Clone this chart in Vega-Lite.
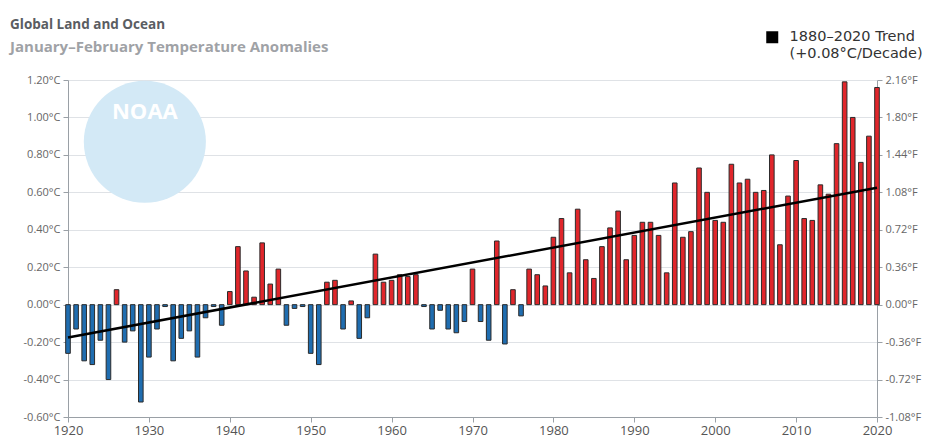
{
  "$schema": "https://vega.github.io/schema/vega-lite/v6.json",
  "width": 809,
  "height": 337,
  "autosize": {"type": "none"},
  "padding": {"left": 68, "top": 80, "right": 52, "bottom": 21},
  "background": "white",
  "title": {
    "text": "Global Land and Ocean",
    "subtitle": "January–February Temperature Anomalies",
    "anchor": "start",
    "frame": "group",
    "dx": -58,
    "offset": -25,
    "font": "Open Sans",
    "fontSize": 13.5,
    "fontWeight": "bold",
    "color": "#5a5d62",
    "subtitleFont": "Open Sans",
    "subtitleFontSize": 15,
    "subtitleFontWeight": "bold",
    "subtitleColor": "#9fa2a6",
    "subtitlePadding": 9
  },
  "datasets": {
    "anomalies": [
      {"year": 1920, "anomaly": -0.26}, {"year": 1921, "anomaly": -0.13}, {"year": 1922, "anomaly": -0.30},
      {"year": 1923, "anomaly": -0.32}, {"year": 1924, "anomaly": -0.19}, {"year": 1925, "anomaly": -0.40},
      {"year": 1926, "anomaly": 0.08}, {"year": 1927, "anomaly": -0.20}, {"year": 1928, "anomaly": -0.14},
      {"year": 1929, "anomaly": -0.52}, {"year": 1930, "anomaly": -0.28}, {"year": 1931, "anomaly": -0.13},
      {"year": 1932, "anomaly": -0.01}, {"year": 1933, "anomaly": -0.30}, {"year": 1934, "anomaly": -0.18},
      {"year": 1935, "anomaly": -0.14}, {"year": 1936, "anomaly": -0.28}, {"year": 1937, "anomaly": -0.07},
      {"year": 1938, "anomaly": -0.01}, {"year": 1939, "anomaly": -0.11}, {"year": 1940, "anomaly": 0.07},
      {"year": 1941, "anomaly": 0.31}, {"year": 1942, "anomaly": 0.18}, {"year": 1943, "anomaly": 0.04},
      {"year": 1944, "anomaly": 0.33}, {"year": 1945, "anomaly": 0.11}, {"year": 1946, "anomaly": 0.19},
      {"year": 1947, "anomaly": -0.11}, {"year": 1948, "anomaly": -0.02}, {"year": 1949, "anomaly": -0.01},
      {"year": 1950, "anomaly": -0.26}, {"year": 1951, "anomaly": -0.32}, {"year": 1952, "anomaly": 0.12},
      {"year": 1953, "anomaly": 0.13}, {"year": 1954, "anomaly": -0.13}, {"year": 1955, "anomaly": 0.02},
      {"year": 1956, "anomaly": -0.18}, {"year": 1957, "anomaly": -0.07}, {"year": 1958, "anomaly": 0.27},
      {"year": 1959, "anomaly": 0.12}, {"year": 1960, "anomaly": 0.13}, {"year": 1961, "anomaly": 0.16},
      {"year": 1962, "anomaly": 0.15}, {"year": 1963, "anomaly": 0.16}, {"year": 1964, "anomaly": -0.01},
      {"year": 1965, "anomaly": -0.13}, {"year": 1966, "anomaly": -0.03}, {"year": 1967, "anomaly": -0.13},
      {"year": 1968, "anomaly": -0.15}, {"year": 1969, "anomaly": -0.09}, {"year": 1970, "anomaly": 0.19},
      {"year": 1971, "anomaly": -0.09}, {"year": 1972, "anomaly": -0.19}, {"year": 1973, "anomaly": 0.34},
      {"year": 1974, "anomaly": -0.21}, {"year": 1975, "anomaly": 0.08}, {"year": 1976, "anomaly": -0.06},
      {"year": 1977, "anomaly": 0.19}, {"year": 1978, "anomaly": 0.16}, {"year": 1979, "anomaly": 0.10},
      {"year": 1980, "anomaly": 0.36}, {"year": 1981, "anomaly": 0.46}, {"year": 1982, "anomaly": 0.17},
      {"year": 1983, "anomaly": 0.51}, {"year": 1984, "anomaly": 0.24}, {"year": 1985, "anomaly": 0.14},
      {"year": 1986, "anomaly": 0.31}, {"year": 1987, "anomaly": 0.41}, {"year": 1988, "anomaly": 0.50},
      {"year": 1989, "anomaly": 0.24}, {"year": 1990, "anomaly": 0.37}, {"year": 1991, "anomaly": 0.44},
      {"year": 1992, "anomaly": 0.44}, {"year": 1993, "anomaly": 0.37}, {"year": 1994, "anomaly": 0.17},
      {"year": 1995, "anomaly": 0.65}, {"year": 1996, "anomaly": 0.36}, {"year": 1997, "anomaly": 0.39},
      {"year": 1998, "anomaly": 0.73}, {"year": 1999, "anomaly": 0.60}, {"year": 2000, "anomaly": 0.45},
      {"year": 2001, "anomaly": 0.44}, {"year": 2002, "anomaly": 0.75}, {"year": 2003, "anomaly": 0.65},
      {"year": 2004, "anomaly": 0.67}, {"year": 2005, "anomaly": 0.60}, {"year": 2006, "anomaly": 0.61},
      {"year": 2007, "anomaly": 0.80}, {"year": 2008, "anomaly": 0.32}, {"year": 2009, "anomaly": 0.58},
      {"year": 2010, "anomaly": 0.77}, {"year": 2011, "anomaly": 0.46}, {"year": 2012, "anomaly": 0.45},
      {"year": 2013, "anomaly": 0.64}, {"year": 2014, "anomaly": 0.59}, {"year": 2015, "anomaly": 0.86},
      {"year": 2016, "anomaly": 1.19}, {"year": 2017, "anomaly": 1.00}, {"year": 2018, "anomaly": 0.76},
      {"year": 2019, "anomaly": 0.90}, {"year": 2020, "anomaly": 1.16}
    ],
    "trend": [
      {"year": 1920, "value": -0.175},
      {"year": 2020, "value": 0.625}
    ],
    "logo": [
      {"year": 1929.5, "value": 0.87, "label": "NOAA", "textValue": 1.03}
    ]
  },
  "layer": [
    {
      "data": {"name": "logo"},
      "mark": {"type": "circle", "color": "#d3e9f6", "opacity": 1},
      "encoding": {
        "x": {
          "field": "year",
          "type": "quantitative",
          "scale": {"domain": [1920, 2020], "nice": false, "zero": false, "padding": 0},
          "axis": {
            "title": null,
            "values": [1920, 1930, 1940, 1950, 1960, 1970, 1980, 1990, 2000, 2010, 2020],
            "format": "d",
            "grid": false,
            "labelFlush": false,
            "labelOverlap": false,
            "domainColor": "#9aa0a6",
            "tickColor": "#9aa0a6",
            "tickSize": 5,
            "labelColor": "#555",
            "labelFont": "Open Sans",
            "labelFontSize": 13,
            "labelPadding": 2
          }
        },
        "y": {"field": "value", "type": "quantitative", "axis": null},
        "size": {"value": 14900}
      }
    },
    {
      "data": {"name": "logo"},
      "mark": {"type": "text", "color": "white", "font": "Open Sans", "fontWeight": "bold", "fontSize": 22},
      "encoding": {
        "x": {
          "field": "year",
          "type": "quantitative",
          "axis": {
            "title": null,
            "values": [1920, 1930, 1940, 1950, 1960, 1970, 1980, 1990, 2000, 2010, 2020],
            "format": "d",
            "grid": false,
            "labelFlush": false,
            "labelOverlap": false,
            "domainColor": "#9aa0a6",
            "tickColor": "#9aa0a6",
            "tickSize": 5,
            "labelColor": "#555",
            "labelFont": "Open Sans",
            "labelFontSize": 13,
            "labelPadding": 2
          }
        },
        "y": {"field": "textValue", "type": "quantitative", "axis": null},
        "text": {"field": "label"}
      }
    },
    {
      "data": {"name": "anomalies"},
      "mark": {"type": "bar", "orient": "vertical", "size": 4.6, "stroke": "#2b2b2b", "strokeWidth": 1},
      "encoding": {
        "x": {
          "field": "year",
          "type": "quantitative",
          "axis": {
            "title": null,
            "values": [1920, 1930, 1940, 1950, 1960, 1970, 1980, 1990, 2000, 2010, 2020],
            "format": "d",
            "grid": false,
            "labelFlush": false,
            "labelOverlap": false,
            "domainColor": "#9aa0a6",
            "tickColor": "#9aa0a6",
            "tickSize": 5,
            "labelColor": "#555",
            "labelFont": "Open Sans",
            "labelFontSize": 13,
            "labelPadding": 2
          }
        },
        "y": {
          "field": "anomaly",
          "type": "quantitative",
          "scale": {"domain": [-0.6, 1.2], "nice": false},
          "axis": {
            "title": null,
            "values": [-0.6, -0.4, -0.2, 0, 0.2, 0.4, 0.6, 0.8, 1.0, 1.2],
            "labelExpr": "replace(format(datum.value, '.2f'), '−', '-') + '°C'",
            "grid": true,
            "gridColor": "#dfe2e6",
            "gridWidth": 1,
            "domainColor": "#9aa0a6",
            "tickColor": "#9aa0a6",
            "tickSize": 5,
            "labelColor": "#666",
            "labelFont": "Open Sans",
            "labelFontSize": 11,
            "labelPadding": 3
          }
        },
        "color": {
          "condition": {"test": "datum.anomaly >= 0", "value": "#e0262b"},
          "value": "#1f6db0"
        }
      }
    },
    {
      "data": {"name": "trend"},
      "mark": {"type": "line", "strokeWidth": 2.5},
      "encoding": {
        "x": {
          "field": "year",
          "type": "quantitative",
          "axis": {
            "title": null,
            "values": [1920, 1930, 1940, 1950, 1960, 1970, 1980, 1990, 2000, 2010, 2020],
            "format": "d",
            "grid": false,
            "labelFlush": false,
            "labelOverlap": false,
            "domainColor": "#9aa0a6",
            "tickColor": "#9aa0a6",
            "tickSize": 5,
            "labelColor": "#555",
            "labelFont": "Open Sans",
            "labelFontSize": 13,
            "labelPadding": 2
          }
        },
        "y": {
          "field": "value",
          "type": "quantitative",
          "axis": {
            "title": null,
            "orient": "right",
            "values": [-0.6, -0.4, -0.2, 0, 0.2, 0.4, 0.6, 0.8, 1.0, 1.2],
            "labelExpr": "replace(format(datum.value * 1.8, '.2f'), '−', '-') + '°F'",
            "grid": false,
            "domainColor": "#9aa0a6",
            "tickColor": "#9aa0a6",
            "tickSize": 5,
            "labelColor": "#666",
            "labelFont": "Open Sans",
            "labelFontSize": 11,
            "labelPadding": 3
          }
        },
        "color": {
          "datum": "1880–2020 Trend",
          "type": "nominal",
          "scale": {"range": ["#000000"]},
          "legend": {
            "title": null,
            "orient": "none",
            "legendX": 697,
            "legendY": -50,
            "padding": 0,
            "labelExpr": "['1880–2020 Trend', '(+0.08°C/Decade)']",
            "labelFont": "DejaVu Sans",
            "labelFontSize": 14.5,
            "labelColor": "#333",
            "labelOffset": 10,
            "labelLimit": 300,
            "symbolType": "square",
            "symbolSize": 144,
            "encode": {
              "symbols": {
                "update": {
                  "fill": {"value": "#000"},
                  "stroke": {"value": "#000"},
                  "strokeWidth": {"value": 0},
                  "shape": {"value": "square"},
                  "size": {"value": 144}
                }
              }
            }
          }
        }
      }
    }
  ],
  "resolve": {"axis": {"y": "independent"}},
  "config": {"view": {"stroke": null}}
}
